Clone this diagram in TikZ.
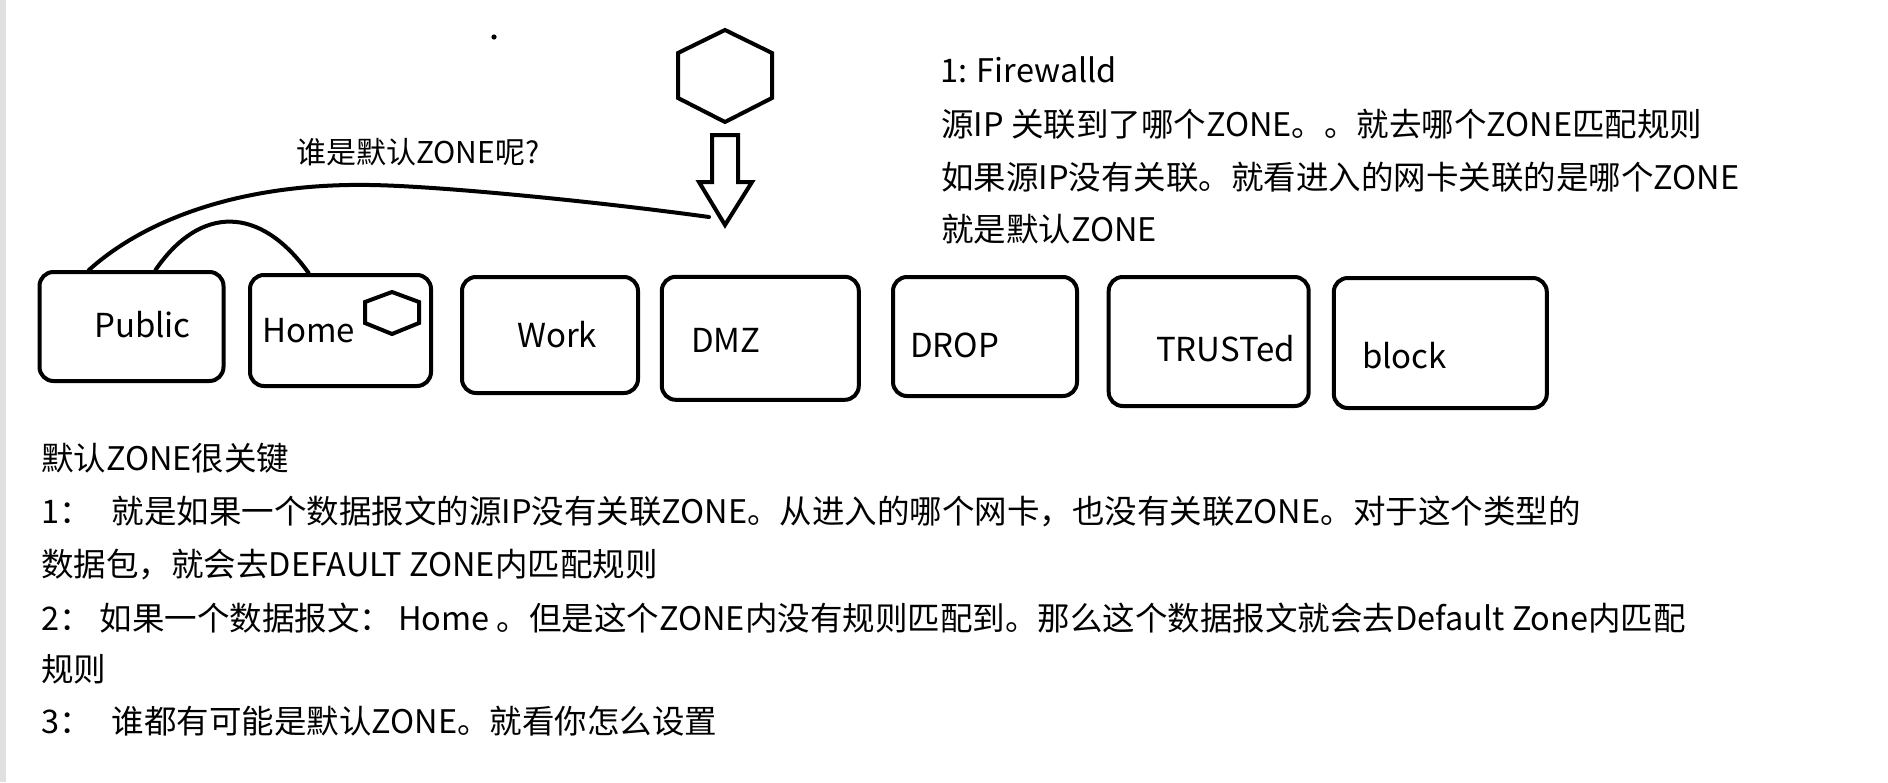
\documentclass[tikz,border=0pt]{standalone}
\usepackage{fontspec}
\setmainfont{Noto Sans CJK SC}
\begin{document}
\begin{tikzpicture}[x=1pt,y=-1pt,
  zonebox/.style={draw, rounded corners=14pt, line width=4pt, inner sep=0pt},
  boxlabel/.style={anchor=base west, inner sep=0pt, font=\fontsize{33}{40}\selectfont},
  txt/.style={anchor=base west, inner sep=0pt, font=\fontsize{32.5}{40}\selectfont},
  stroke/.style={line width=4pt, line cap=round, line join=round},
  shapeline/.style={line width=4pt, line join=miter}]
\useasboundingbox (0,0) rectangle (1888,782);
\fill[white] (0,0) rectangle (1888,782);
\fill[black!12] (0,0) rectangle (6,782);

% zone boxes
\node[zonebox, minimum width=184pt, minimum height=109pt] (public) at (131.5,326.5) {};
\node[zonebox, minimum width=181pt, minimum height=111pt] (home) at (340.5,330.5) {};
\node[zonebox, minimum width=176pt, minimum height=116pt] (work) at (550,335) {};
\node[zonebox, minimum width=197pt, minimum height=123pt] (dmz) at (760.3,338.3) {};
\node[zonebox, minimum width=184pt, minimum height=119pt] (drop) at (985,336.5) {};
\node[zonebox, minimum width=200pt, minimum height=129pt] (trusted) at (1208.7,341.5) {};
\node[zonebox, minimum width=213pt, minimum height=130pt] (block) at (1440.3,343) {};

% box labels
\node[boxlabel] (publicT) at (94,337) {Public};
\node[boxlabel] (homeT) at (262,342) {Home};
\node[boxlabel] (workT) at (517,347) {Work};
\node[boxlabel] (dmzT) at (691,352) {DMZ};
\node[boxlabel] (dropT) at (910,357) {DROP};
\node[boxlabel] (trustedT) at (1156,361) {TRUSTed};
\node[boxlabel] (blockT) at (1362,368) {block};

% small hexagon in Home
\draw[shapeline] (392,292) -- (419,302) -- (419,323) -- (392,334) -- (365,323) -- (365,302) -- cycle;

% big hexagon
\draw[shapeline] (725,30) -- (772,53) -- (772,98) -- (725,122) -- (678,98) -- (678,53) -- cycle;

% block arrow
\draw[shapeline] (712,135) -- (738,135) -- (738,182) -- (752,182) -- (725,225) -- (699,182) -- (712,182) -- cycle;
\coordinate (arrowtip) at (725,225);

% dot
\fill (494,37) circle (2.6pt);

% curves
\coordinate (cend) at (709,217);
\draw[stroke] (public.127) .. controls (150,215) and (250,183) .. (370,185)
   .. controls (440,186) and (600,202) .. (cend);
\draw[stroke] (public.67) .. controls (200,205) and (260,205) .. (home.119);

\node[anchor=base west, inner sep=0pt, font=\fontsize{30}{36}\selectfont] (q) at (296,163) {谁是默认ZONE呢?};

% right text
\node[txt] (r1) at (940,82) {1: Firewalld};
\node[txt] (r2) at (941,136) {源IP 关联到了哪个ZONE。。就去哪个ZONE匹配规则};
\node[txt] (r3) at (941,189) {如果源IP没有关联。就看进入的网卡关联的是哪个ZONE};
\node[txt] (r4) at (941,241) {就是默认ZONE};

% bottom text
\node[txt] (b1) at (41,470) {默认ZONE很关键};
\node[txt] (b2) at (41,523) {1：\hspace{20pt}就是如果一个数据报文的源IP没有关联ZONE。从进入的哪个网卡，也没有关联ZONE。对于这个类型的};
\node[txt] (b3) at (41,576) {数据包，就会去DEFAULT ZONE内匹配规则};
\node[txt] (b4) at (41,630) {2：\hspace{8pt}如果一个数据报文：\hspace{6pt}Home 。但是这个ZONE内没有规则匹配到。那么这个数据报文就会去Default Zone内匹配};
\node[txt] (b5) at (41,681) {规则};
\node[txt] (b6) at (41,733) {3：\hspace{20pt}谁都有可能是默认ZONE。就看你怎么设置};
\end{tikzpicture}
\end{document}
